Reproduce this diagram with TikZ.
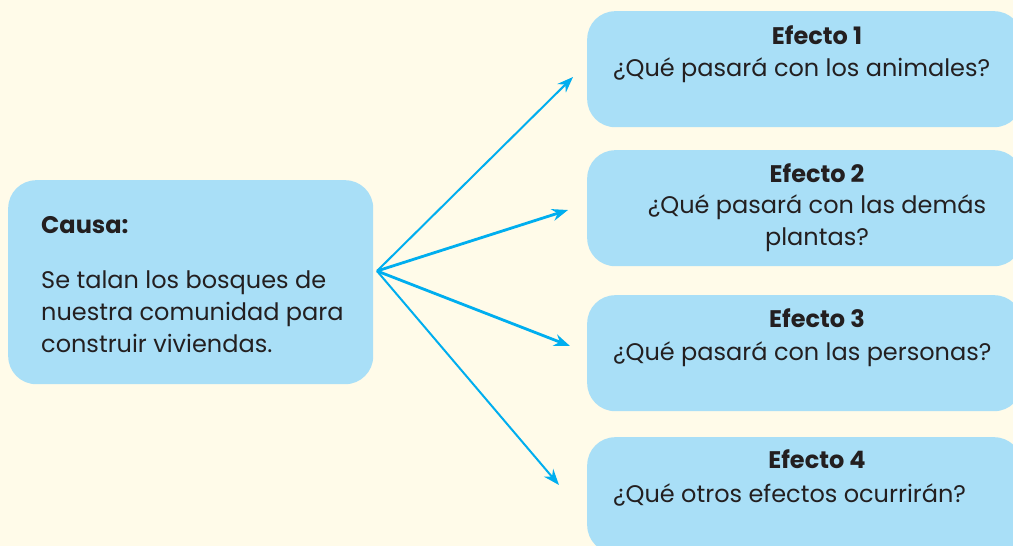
\documentclass[tikz,border=0pt]{standalone}
\usepackage{fontspec}
\setmainfont{Poppins}
\usetikzlibrary{arrows.meta}
\definecolor{crema}{HTML}{FFFBE9}
\definecolor{celeste}{HTML}{A9DFF7}
\definecolor{azul}{HTML}{00AEEF}
\definecolor{tinta}{HTML}{231F20}
\tikzset{
  caja/.style={fill=celeste, rounded corners=28pt, inner sep=0pt, anchor=north west},
  flecha/.style={draw=azul, line width=2pt, -{Stealth[length=16pt,width=12pt]}},
  gruesa/.style={flecha, line width=2.8pt},
  letra/.style={text=tinta, inner sep=0pt, font=\fontsize{24}{32}\selectfont},
  titulo/.style={letra, anchor=base, font=\fontsize{24}{32}\selectfont\bfseries},
}
\begin{document}
\begin{tikzpicture}[x=1pt,y=-1pt]
  \useasboundingbox (0,0) rectangle (1013,546);
  \clip (0,0) rectangle (1013,546);
  \fill[crema] (0,0) rectangle (1013,546);
  \def\ex{587};
  \def\eancho{435pt};
  \def\ealto{116pt};
  % causa
  \node[caja, minimum width=365pt, minimum height=204pt] (causa) at (8,180) {};
  \node[letra, anchor=base west, font=\fontsize{24}{32}\selectfont\bfseries] (causatit) at (41,233) {Causa:};
  % base of a multi-line node = last line
  \node[letra, anchor=base west, align=left] (causatxt) at (41,352)
    {Se talan los bosques de\\nuestra comunidad para\\construir viviendas.};
  % efectos
  \node[caja, minimum width=\eancho, minimum height=\ealto] (efecto1) at (\ex,11) {};
  \node[caja, minimum width=\eancho, minimum height=\ealto] (efecto2) at (\ex,150) {};
  \node[caja, minimum width=\eancho, minimum height=\ealto] (efecto3) at (\ex,295) {};
  \node[caja, minimum width=\eancho, minimum height=\ealto] (efecto4) at (\ex,437) {};
  \node[titulo] (tit1) at (817,44) {Efecto 1};
  \node[letra, anchor=base west] (preg1) at (613,76) {¿Qué pasará con los animales?};
  \node[titulo] (tit2) at (817,182) {Efecto 2};
  \node[letra, anchor=base, align=center] (preg2) at (817,245) {¿Qué pasará con las demás\\plantas?};
  \node[titulo] (tit3) at (817,327) {Efecto 3};
  \node[letra, anchor=base west] (preg3) at (613,360) {¿Qué pasará con las personas?};
  \node[titulo] (tit4) at (817,468) {Efecto 4};
  \node[letra, anchor=base west] (preg4) at (613,502) {¿Qué otros efectos ocurrirán?};
  % flechas
  \coordinate (centro) at (377,271);
  \coordinate (punta1) at (573,77);
  \coordinate (punta2) at (568,210);
  \coordinate (punta3) at (570,346);
  \coordinate (punta4) at (559,485);
  \draw[flecha] (centro) -- (punta1);
  \draw[gruesa] (centro) -- (punta2);
  \draw[gruesa] (centro) -- (punta3);
  \draw[flecha] (centro) -- (punta4);
\end{tikzpicture}
\end{document}
